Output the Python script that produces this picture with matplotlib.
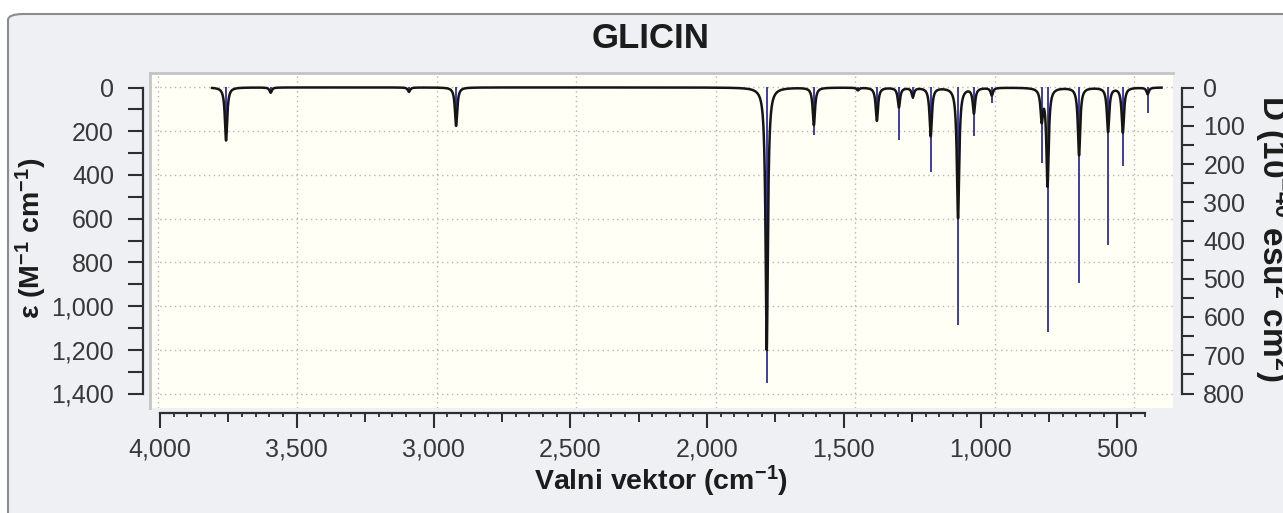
import numpy as np
import matplotlib
matplotlib.use('Agg')
import matplotlib.pyplot as plt
from matplotlib.patches import FancyBboxPatch
from matplotlib.ticker import MultipleLocator, FixedLocator, FuncFormatter, NullFormatter

plt.rcParams['font.family'] = ['Liberation Sans', 'DejaVu Sans']
plt.rcParams['mathtext.fontset'] = 'custom'
plt.rcParams['mathtext.bf'] = 'Liberation Sans:bold'
plt.rcParams['mathtext.rm'] = 'Liberation Sans:bold'
plt.rcParams['mathtext.default'] = 'bf'

# vibrational modes
freqs = [3756, 3596, 3100, 2931, 1817, 1648, 1490, 1422, 1343, 1293,
         1229, 1131, 1074, 1010, 831, 810, 697, 593, 540, 451]
# dipole strength sticks (right axis, 10^-40 esu^2 cm^2)
dip = [76, 8, 7, 70, 772, 125, 6, 80, 137, 30,
       220, 621, 127, 41, 197, 638, 510, 412, 205, 67]
# peak heights of the broadened curve (left axis, epsilon)
eps = [243, 24, 20, 176, 1201, 172, 12, 152, 90, 42,
       222, 597, 115, 35, 140, 446, 309, 202, 205, 30]
hwhm = 5.0
nu_range = (3806, 401)

W, H = 1283, 513
fig = plt.figure(figsize=(W / 100, H / 100), dpi=100, facecolor='white')


def fx(px):
    return px / W


def fy(py):
    return 1 - py / H


# grey rounded panel
panel = FancyBboxPatch((fx(8), fy(530)), fx(1300) - fx(8), fy(14) - fy(530),
                       boxstyle='round,pad=0,rounding_size=0.012',
                       transform=fig.transFigure, facecolor='#eef0f3',
                       edgecolor='#8c8c8c', linewidth=1.5, zorder=-10)
fig.patches.append(panel)

rect = [fx(150), fy(408), fx(1173) - fx(150), fy(73) - fy(408)]
xlim = (4028.7, 360.1)
ylim_eps = (1466, -66)
ylim_d = (ylim_eps[0] * 800 / 1400, ylim_eps[1] * 800 / 1400)

# background + grid
ax = fig.add_axes(rect)
ax.set_facecolor('#fffff6')
ax.set_xlim(*xlim)
ax.set_ylim(*ylim_eps)
ax.set_xticks(np.arange(4000, 499, -500))
ax.set_yticks(np.arange(0, 1401, 200))
ax.tick_params(length=0, labelbottom=False, labelleft=False)
ax.grid(True, color='#b5b5b5', linestyle=(0, (1, 2.5)), linewidth=1.0)
for s in ['right', 'bottom']:
    ax.spines[s].set_visible(False)
for s in ['top', 'left']:
    ax.spines[s].set_color('#c4c4c4')
    ax.spines[s].set_linewidth(2.0)

# sticks
axD = fig.add_axes(rect, sharex=ax)
axD.patch.set_visible(False)
axD.set_ylim(*ylim_d)
axD.axis('off')
axD.vlines(freqs, 0, dip, color='#3d3da6', linewidth=1.4)

# broadened curve
axE = fig.add_axes(rect, sharex=ax)
axE.patch.set_visible(False)
axE.set_ylim(*ylim_eps)
axE.axis('off')
nu = np.arange(nu_range[0], nu_range[1], -0.25)
curve = np.zeros_like(nu)
for f, e in zip(freqs, eps):
    curve += e * hwhm ** 2 / ((nu - f) ** 2 + hwhm ** 2)
axE.plot(nu, curve, color='#151515', linewidth=1.8)

fmt = FuncFormatter(lambda v, p: f'{int(round(v)):,}')
axis_col = '#2e2e2e'
lab_col = '#383838'

# left epsilon axis
axL = fig.add_axes([fx(143), fy(393.5), 0.0005, fy(87.5) - fy(393.5)])
axL.patch.set_visible(False)
axL.set_ylim(1400, 0)
for s in ['right', 'top', 'bottom']:
    axL.spines[s].set_visible(False)
axL.spines['left'].set_color(axis_col)
axL.spines['left'].set_linewidth(1.6)
axL.set_xticks([])
axL.yaxis.set_major_locator(MultipleLocator(200))
axL.yaxis.set_minor_locator(MultipleLocator(100))
axL.yaxis.set_major_formatter(fmt)
axL.tick_params(axis='y', which='both', direction='out', length=10.8, width=1.5,
                color=axis_col, labelsize=18, labelcolor=lab_col, pad=10)

# right D axis
axR = fig.add_axes([fx(1181.7) - 0.0005, fy(393.5), 0.0005, fy(87.5) - fy(393.5)])
axR.patch.set_visible(False)
axR.set_ylim(800, 0)
for s in ['left', 'top', 'bottom']:
    axR.spines[s].set_visible(False)
axR.spines['right'].set_color(axis_col)
axR.spines['right'].set_linewidth(1.6)
axR.set_xticks([])
axR.yaxis.tick_right()
axR.yaxis.set_major_locator(MultipleLocator(100))
axR.yaxis.set_minor_locator(MultipleLocator(50))
axR.tick_params(axis='y', which='both', direction='out', length=8.6, width=1.5,
                color=axis_col, labelsize=18, labelcolor=lab_col, pad=7)

# bottom wavenumber axis
brect = [fx(160), fy(413), fx(1144.6) - fx(160), 0.0005]
axB = fig.add_axes(brect)
axB.patch.set_visible(False)
axB.set_xlim(4000, 400)
for s in ['left', 'right', 'top']:
    axB.spines[s].set_visible(False)
axB.spines['bottom'].set_color(axis_col)
axB.spines['bottom'].set_linewidth(1.6)
axB.set_yticks([])
axB.xaxis.set_major_locator(FixedLocator(np.arange(4000, 499, -500)))
axB.xaxis.set_minor_locator(FixedLocator(np.arange(4000, 399, -50)))
axB.xaxis.set_major_formatter(fmt)
axB.tick_params(axis='x', which='major', direction='out', length=10.8, width=1.5,
                color=axis_col, labelsize=18, labelcolor=lab_col, pad=7)
axB.tick_params(axis='x', which='minor', direction='out', length=3.2, width=1.3,
                color=axis_col)

axM = fig.add_axes(brect)
axM.patch.set_visible(False)
axM.set_xlim(4000, 400)
for s in axM.spines.values():
    s.set_visible(False)
axM.set_yticks([])
axM.set_xticks(np.arange(3750, 400, -500))
axM.xaxis.set_major_formatter(NullFormatter())
axM.tick_params(axis='x', direction='out', length=6.5, width=1.4, color=axis_col)

# texts
fig.text(fx(651), fy(48), 'GLICIN', ha='center', va='baseline',
         fontsize=25, fontweight='bold', color='#1c1c1c')
fig.text(fx(661), fy(490), r'Valni vektor (cm$^{-1}$)', ha='center', va='baseline',
         fontsize=20.5, fontweight='bold', color='#1c1c1c')
fig.text(fx(49), fy(238), r'ε (M$^{-1}$ cm$^{-1}$)', ha='right', va='center',
         rotation=90, fontsize=20.5, fontweight='bold', color='#1c1c1c')
fig.text(fx(1252), fy(238), r'D (10$^{-40}$ esu$^{2}$ cm$^{2}$)', ha='left', va='center',
         rotation=270, fontsize=24, fontweight='bold', color='#1c1c1c')

fig.savefig('out.png', dpi=100, facecolor='white')
